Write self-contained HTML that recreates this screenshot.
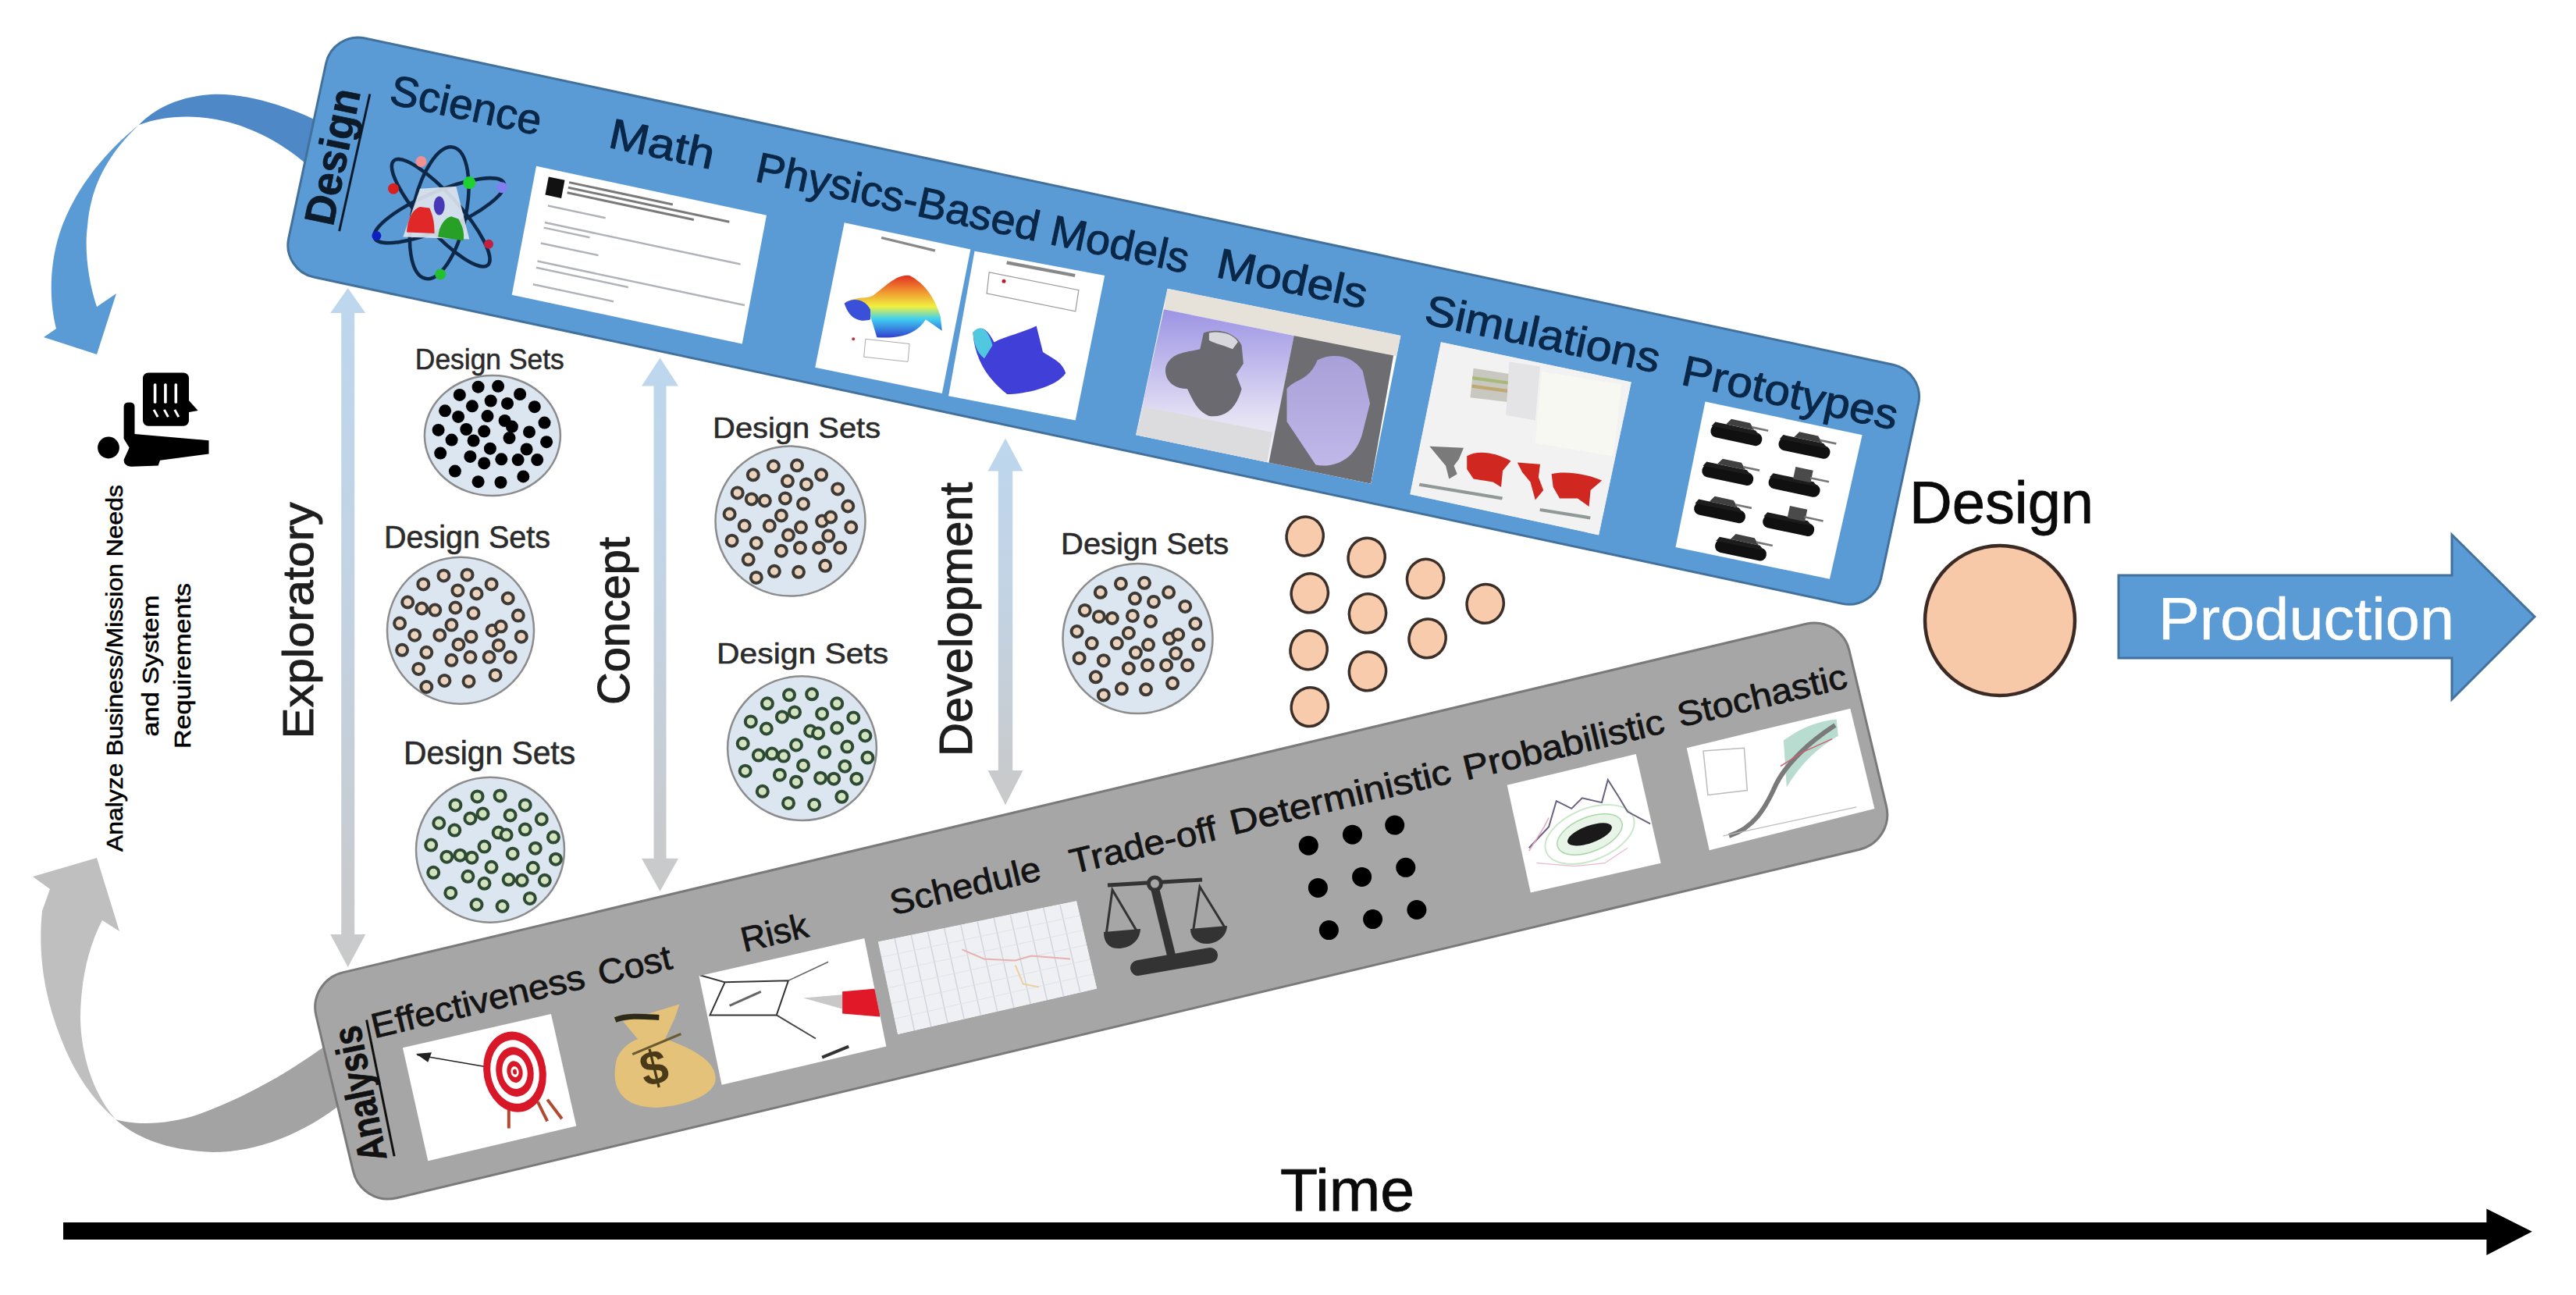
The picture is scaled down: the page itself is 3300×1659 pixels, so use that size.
<!DOCTYPE html>
<html><head><meta charset="utf-8"><title>Design and Analysis</title>
<style>
html,body{margin:0;padding:0;background:#ffffff;width:3300px;height:1659px;overflow:hidden;}
svg{display:block;}
text{font-family:"Liberation Sans", sans-serif;}
</style></head><body>
<svg width="3300" height="1659" viewBox="0 0 3300 1659">
<rect x="0" y="0" width="3300" height="1659" fill="#ffffff"/>
<path d="M420,162 C385,142 320,118 270,121 C225,124 195,142 178,160 C205,150 240,146 277,153 C320,161 360,182 392,210 L420,226 Z" fill="#4f88c6"/>
<path d="M178,160 C140,190 95,240 76,300 C62,345 64,390 72,421 L56,432 L124,454 L149,376 L124,393 C113,360 108,320 112,290 C115,250 130,205 178,160 Z" fill="#5b9bd5"/>
<path d="M430,1330 C390,1360 330,1400 256,1427 C215,1441 175,1442 148,1434 C175,1458 215,1474 273,1476 C330,1476 390,1452 440,1412 Z" fill="#a3a3a3"/>
<path d="M148,1434 C120,1410 95,1375 78,1330 C58,1280 48,1225 54,1167 L64,1139 L42,1123 L124,1099 L153,1193 L131,1179 C112,1215 103,1260 103,1306 C104,1345 115,1395 148,1434 Z" fill="#bfbfbf"/>
<rect x="426.4" y="40.2" width="2086" height="313" rx="42" ry="42" transform="rotate(12.06 426.4 40.2)" fill="#5b9bd5" stroke="#41719c" stroke-width="3"/>
<rect x="394.3" y="1256.5" width="2019" height="297" rx="46" ry="46" transform="rotate(-13.4 394.3 1256.5)" fill="#a6a6a6" stroke="#7a7a7a" stroke-width="3"/>
<defs>
<linearGradient id="ga1" x1="0" y1="0" x2="0" y2="1"><stop offset="0" stop-color="#bdd7ee"/><stop offset="0.45" stop-color="#c3d3e3"/><stop offset="1" stop-color="#c9c9c9"/></linearGradient>
</defs>
<polygon points="445.7,369.0 468.2,401.0 454.2,401.0 454.2,1197.0 468.2,1197.0 445.7,1239.0 423.2,1197.0 437.2,1197.0 437.2,401.0 423.2,401.0" fill="url(#ga1)" />
<polygon points="845.5,458.5 869.0,494.5 853.5,494.5 853.5,1099.8 869.0,1099.8 845.5,1141.8 822.0,1099.8 837.5,1099.8 837.5,494.5 822.0,494.5" fill="url(#ga1)" />
<polygon points="1288.0,561.6 1310.5,603.6 1297.2,603.6 1297.2,987.0 1310.5,987.0 1288.0,1031.0 1265.5,987.0 1278.8,987.0 1278.8,603.6 1265.5,603.6" fill="url(#ga1)" />
<g transform="matrix(2.9500 0.6290 -0.3130 1.6490 687.0 212.8)"><rect x="0" y="0" width="100" height="100" fill="#ffffff" /><rect x="6" y="6" width="7" height="14" fill="#111"/><rect x="15" y="6" width="45" height="1.8" fill="#7a7a7a"/><rect x="15" y="10" width="70" height="1.8" fill="#7a7a7a"/><rect x="15" y="14" width="55" height="1.8" fill="#7a7a7a"/><rect x="8" y="27" width="25" height="1.5" fill="#b0b4ba"/><rect x="8" y="40" width="85" height="1.5" fill="#b0b4ba"/><rect x="8" y="44" width="20" height="1.5" fill="#b0b4ba"/><rect x="8" y="56" width="25" height="1.5" fill="#b0b4ba"/><rect x="8" y="70" width="90" height="1.5" fill="#b0b4ba"/><rect x="8" y="75" width="40" height="1.5" fill="#b0b4ba"/><rect x="8" y="88" width="35" height="1.5" fill="#b0b4ba"/></g>
<clipPath id="cp1"><polygon points="1081.7,285.2 1243.3,319.6 1206.8,504.1 1044.2,470.7"/></clipPath><polygon points="1081.7,285.2 1243.3,319.6 1206.8,504.1 1044.2,470.7" fill="#ffffff"/><g clip-path="url(#cp1)"><defs><linearGradient id="jet1" x1="0" y1="1" x2="0" y2="0"><stop offset="0" stop-color="#3040d0"/><stop offset="0.3" stop-color="#40d0f0"/><stop offset="0.5" stop-color="#f0f040"/><stop offset="0.75" stop-color="#f09030"/><stop offset="1" stop-color="#e03020"/></linearGradient></defs><polygon points="1129.6,302.9 1198.4,319.6 1197.4,322.7 1128.6,306.1" fill="#888"/><path d="M1081.7,388.4 C1098.4,378.0 1110.9,384.2 1119.2,378.0 C1133.8,367.6 1148.4,350.9 1165.1,353.0 C1185.9,363.4 1198.4,384.2 1204.7,405.1 L1206.8,423.8 L1185.9,409.2 C1175.5,425.9 1156.7,434.3 1123.4,432.2 L1115.0,405.1 C1102.5,413.4 1087.9,409.2 1081.7,388.4 Z" fill="url(#jet1)"/><path d="M1081.7,388.4 C1094.2,380.1 1108.8,384.2 1115.0,396.7 L1115.0,409.2 C1102.5,413.4 1087.9,409.2 1081.7,388.4 Z" fill="#3a50d8"/><polygon points="1108.8,434.3 1165.1,440.5 1163.0,463.4 1106.7,457.2" fill="none" stroke="#aaa" stroke-width="1"/><circle cx="1093.2" cy="434.3" r="2" fill="#c03040"/></g>
<clipPath id="cp2"><polygon points="1248.5,321.7 1415.2,353.0 1377.7,538.5 1215.1,507.2"/></clipPath><polygon points="1248.5,321.7 1415.2,353.0 1377.7,538.5 1215.1,507.2" fill="#ffffff"/><g clip-path="url(#cp2)"><polygon points="1290.2,334.2 1377.7,350.9 1376.7,355.0 1289.1,338.4" fill="#888"/><polygon points="1267.2,348.8 1381.9,371.7 1377.7,398.8 1264.1,375.9" fill="none" stroke="#999" stroke-width="1.2"/><circle cx="1286.0" cy="360.3" r="2.5" fill="#b02030"/><path d="M1246.4,425.9 C1258.9,413.4 1267.2,425.9 1273.5,438.4 C1290.2,430.1 1311.0,425.9 1327.7,417.6 L1336.0,450.9 C1348.5,459.3 1361.0,463.4 1365.2,478.0 C1352.7,496.8 1311.0,505.1 1290.2,505.1 C1269.3,488.5 1248.5,463.4 1246.4,425.9 Z" fill="#4040d8"/><path d="M1246.4,425.9 C1256.8,413.4 1267.2,423.8 1271.4,442.6 L1261.0,459.3 C1250.5,450.9 1247.4,438.4 1246.4,425.9 Z" fill="#50c8e0"/></g>
<clipPath id="cp3"><polygon points="1495.6,369.7 1794.4,429.9 1756.2,619.8 1455.1,557.3"/></clipPath><polygon points="1495.6,369.7 1794.4,429.9 1756.2,619.8 1455.1,557.3" fill="#ffffff"/><g clip-path="url(#cp3)"><defs><linearGradient id="lav" x1="0" y1="0" x2="0" y2="1"><stop offset="0" stop-color="#9c94e4"/><stop offset="0.7" stop-color="#e4e0f4"/><stop offset="1" stop-color="#f4f4f8"/></linearGradient><linearGradient id="lav2" x1="0" y1="0" x2="0" y2="1"><stop offset="0" stop-color="#a8a0d8"/><stop offset="1" stop-color="#c0b8e8"/></linearGradient></defs><polygon points="1495.6,369.7 1794.4,429.9 1789.7,456.5 1491.0,396.3" fill="#e6e2da"/><polygon points="1491.0,396.3 1657.7,429.9 1625.3,593.2 1455.1,557.3" fill="url(#lav)"/><polygon points="1465.5,521.4 1629.9,553.8 1623.0,593.2 1455.1,557.3" fill="#dcdcde"/><path d="M1493.3,470.4 C1500.2,451.9 1516.4,451.9 1537.3,447.3 L1541.9,426.4 C1560.4,419.5 1583.6,426.4 1590.6,442.6 L1592.9,465.8 L1583.6,479.7 L1590.6,498.2 C1583.6,523.7 1569.7,535.3 1548.9,533.0 C1532.6,526.0 1528.0,512.1 1521.1,498.2 C1504.9,498.2 1491.0,489.0 1493.3,470.4 Z" fill="#6a6a70"/><path d="M1548.9,426.4 C1560.4,424.1 1579.0,426.4 1585.9,438.0 L1579.0,447.3 C1569.7,442.6 1555.8,440.3 1548.9,435.7 Z" fill="#d8d8dc"/><polygon points="1657.7,429.9 1785.1,455.4 1756.2,619.8 1625.3,593.2" fill="#6e6e72"/><path d="M1648.5,498.2 C1660.0,484.3 1676.2,489.0 1687.8,461.2 C1706.4,451.9 1731.8,454.2 1745.7,475.1 L1755.0,516.8 L1745.7,553.8 C1736.5,590.9 1706.4,600.1 1685.5,595.5 L1648.5,539.9 Z" fill="url(#lav2)"/></g>
<clipPath id="cp4"><polygon points="1845.9,438.3 2089.8,489.4 2048.1,685.4 1806.3,633.3"/></clipPath><polygon points="1845.9,438.3 2089.8,489.4 2048.1,685.4 1806.3,633.3" fill="#ffffff"/><g clip-path="url(#cp4)"><polygon points="1845.9,438.3 2089.8,489.4 2048.1,685.4 1806.3,633.3" fill="#f2f2f2"/><polygon points="1887.6,471.7 1939.7,480.0 1935.5,515.5 1883.4,509.2" fill="#c8c8c0"/><polygon points="1886.5,482.1 1939.3,489.4 1938.6,493.6 1885.9,486.3" fill="#a8b878"/><polygon points="1885.9,492.5 1938.4,499.8 1937.8,504.0 1885.3,496.7" fill="#c0a870"/><polygon points="1933.4,463.4 1973.0,469.6 1966.8,538.4 1929.2,532.1" fill="#e4e4e6"/><polygon points="1975.1,475.9 2077.3,492.5 2066.8,584.3 1966.8,567.6" fill="#f8f8f2"/><path d="M1831.3,571.8 L1875.0,573.8 L1868.8,588.4 L1862.5,596.8 L1866.7,607.2 L1856.3,613.4 L1852.1,596.8 L1841.7,584.3 Z" fill="#7a7a7a"/><path d="M1879.2,584.3 C1893.8,575.9 1916.7,580.1 1935.5,590.5 L1925.1,603.0 L1923.0,623.9 L1912.6,617.6 L1887.6,613.4 L1879.2,600.9 Z" fill="#d02820"/><path d="M1943.8,592.6 L1973.0,594.7 L1970.9,611.4 L1977.2,628.0 L1966.8,640.5 L1960.5,617.6 L1950.1,605.1 Z" fill="#d02820"/><path d="M1987.6,607.2 C2004.3,603.0 2033.5,607.2 2052.2,615.5 L2037.6,628.0 L2035.6,648.9 L2021.0,638.5 L1998.0,638.5 L1989.7,623.9 Z" fill="#d02820"/><polygon points="1818.8,618.7 1925.1,636.4 1924.0,640.5 1817.7,622.8" fill="#909898"/><polygon points="1973.0,651.0 2037.6,661.4 2037.0,665.6 1972.4,655.1" fill="#909898"/></g>
<clipPath id="cp5"><polygon points="2184.5,514.6 2385.6,557.3 2343.9,741.7 2146.5,700.9"/></clipPath><polygon points="2184.5,514.6 2385.6,557.3 2343.9,741.7 2146.5,700.9" fill="#ffffff"/><g clip-path="url(#cp5)"><g transform="translate(2225.2,553.6) rotate(12) scale(0.88)"><rect x="-38" y="-5" width="76" height="19" rx="9" fill="#101010"/><polygon points="-34,-8 26,-8 33,-2 -38,-1" fill="#1c1c1c"/><polygon points="-12,-17 16,-17 24,-8 -18,-8" fill="#404040"/><rect x="20" y="-13" width="24" height="3" fill="#777"/></g><g transform="translate(2312.3,570.2) rotate(12) scale(0.88)"><rect x="-38" y="-5" width="76" height="19" rx="9" fill="#101010"/><polygon points="-34,-8 26,-8 33,-2 -38,-1" fill="#1c1c1c"/><polygon points="-12,-17 16,-17 24,-8 -18,-8" fill="#404040"/><rect x="20" y="-13" width="24" height="3" fill="#777"/></g><g transform="translate(2214.1,604.5) rotate(12) scale(0.88)"><rect x="-38" y="-5" width="76" height="19" rx="9" fill="#101010"/><polygon points="-34,-8 26,-8 33,-2 -38,-1" fill="#1c1c1c"/><polygon points="-12,-17 16,-17 24,-8 -18,-8" fill="#404040"/><rect x="20" y="-13" width="24" height="3" fill="#777"/></g><g transform="translate(2299.4,619.3) rotate(12) scale(0.88)"><rect x="-38" y="-5" width="76" height="19" rx="9" fill="#101010"/><polygon points="-34,-8 26,-8 33,-2 -38,-1" fill="#1c1c1c"/><rect x="-4" y="-24" width="26" height="18" fill="#4a4a4a"/><rect x="20" y="-14" width="28" height="3" fill="#777"/></g><g transform="translate(2203.9,652.7) rotate(12) scale(0.88)"><rect x="-38" y="-5" width="76" height="19" rx="9" fill="#101010"/><polygon points="-34,-8 26,-8 33,-2 -38,-1" fill="#1c1c1c"/><polygon points="-12,-17 16,-17 24,-8 -18,-8" fill="#404040"/><rect x="20" y="-13" width="24" height="3" fill="#777"/></g><g transform="translate(2292.0,669.4) rotate(12) scale(0.88)"><rect x="-38" y="-5" width="76" height="19" rx="9" fill="#101010"/><polygon points="-34,-8 26,-8 33,-2 -38,-1" fill="#1c1c1c"/><rect x="-4" y="-24" width="26" height="18" fill="#4a4a4a"/><rect x="20" y="-14" width="28" height="3" fill="#777"/></g><g transform="translate(2230.8,700.9) rotate(12) scale(0.88)"><rect x="-38" y="-5" width="76" height="19" rx="9" fill="#101010"/><polygon points="-34,-8 26,-8 33,-2 -38,-1" fill="#1c1c1c"/><polygon points="-12,-17 16,-17 24,-8 -18,-8" fill="#404040"/><rect x="20" y="-13" width="24" height="3" fill="#777"/></g></g>
<clipPath id="cp6"><polygon points="515.9,1342.2 705.9,1298.9 738.3,1442.5 548.3,1487.3"/></clipPath><polygon points="515.9,1342.2 705.9,1298.9 738.3,1442.5 548.3,1487.3" fill="#ffffff"/><g clip-path="url(#cp6)"><line x1="534.4" y1="1351.4" x2="659.5" y2="1373.1" stroke="#222" stroke-width="1.5"/><polygon points="532.9,1349.9 553.0,1348.3 548.3,1360.7" fill="#222"/><line x1="651.8" y1="1414.7" x2="651.8" y2="1445.6" stroke="#b04a30" stroke-width="4"/><line x1="688.9" y1="1411.7" x2="701.2" y2="1436.4" stroke="#b04a30" stroke-width="4"/><line x1="701.2" y1="1408.6" x2="719.8" y2="1433.3" stroke="#b04a30" stroke-width="4"/><ellipse cx="659.5" cy="1373.1" rx="40" ry="52" transform="rotate(-10 659.5 1373.1)" fill="#d81828"/><ellipse cx="659.5" cy="1373.1" rx="31" ry="41" transform="rotate(-10 659.5 1373.1)" fill="#fff"/><ellipse cx="659.5" cy="1373.1" rx="24" ry="32" transform="rotate(-10 659.5 1373.1)" fill="#d81828"/><ellipse cx="659.5" cy="1373.1" rx="16" ry="22" transform="rotate(-10 659.5 1373.1)" fill="#fff"/><ellipse cx="659.5" cy="1373.1" rx="10" ry="14" transform="rotate(-10 659.5 1373.1)" fill="#d81828"/><ellipse cx="659.5" cy="1373.1" rx="5" ry="7" transform="rotate(-10 659.5 1373.1)" fill="#fff"/><ellipse cx="659.5" cy="1373.1" rx="2.5" ry="3.5" transform="rotate(-10 659.5 1373.1)" fill="#d81828"/></g>
<path d="M790.1,1356.6 C800.1,1332.5 830.3,1320.5 856.3,1332.5 C890.5,1344.6 916.6,1360.7 916.6,1380.7 C918.6,1400.8 880.4,1416.9 840.3,1418.9 C800.1,1418.9 780.1,1396.8 790.1,1356.6 Z" fill="#e4c27a"/><polygon points="798.1,1308.5 870.4,1286.4 864.4,1304.4 850.3,1334.6 818.2,1332.5" fill="#e4c27a"/><path d="M788.1,1306.5 C804.2,1300.4 824.2,1302.4 844.3,1303.4" stroke="#2e2a18" stroke-width="7" fill="none"/><line x1="810.2" y1="1350.6" x2="872.4" y2="1324.5" stroke="#6a5a30" stroke-width="3"/><text transform="translate(826.2,1392.8) rotate(-14)" font-size="62" font-weight="bold" fill="#4a3a18">$</text>
<clipPath id="cp7"><polygon points="895.5,1250.3 1107.3,1202.1 1135.4,1340.6 924.6,1389.8"/></clipPath><polygon points="895.5,1250.3 1107.3,1202.1 1135.4,1340.6 924.6,1389.8" fill="#ffffff"/><g clip-path="url(#cp7)"><polyline points="896.5,1249.2 928.6,1258.3 909.5,1300.4 994.8,1300.4 1009.9,1256.3 928.6,1258.3" fill="none" stroke="#333" stroke-width="2"/><polyline points="1009.9,1256.3 1061.1,1232.2" fill="none" stroke="#666" stroke-width="1.5"/><polyline points="994.8,1300.4 1045.0,1330.5" fill="none" stroke="#444" stroke-width="2"/><polygon points="1029.0,1278.4 1079.1,1274.3 1079.1,1292.4" fill="#c8c8c8"/><polygon points="1079.1,1270.3 1125.3,1266.3 1127.3,1302.4 1079.1,1298.4" fill="#e01828"/><polyline points="934.6,1288.4 974.8,1270.3" fill="none" stroke="#666" stroke-width="3"/><polyline points="1053.1,1354.6 1087.2,1340.6" fill="none" stroke="#333" stroke-width="4"/></g>
<clipPath id="cp8"><polygon points="1125.0,1206.4 1379.0,1154.2 1405.1,1266.6 1150.1,1324.9"/></clipPath><polygon points="1125.0,1206.4 1379.0,1154.2 1405.1,1266.6 1150.1,1324.9" fill="#ffffff"/><g clip-path="url(#cp8)"><polygon points="1125.0,1206.4 1379.0,1154.2 1405.1,1266.6 1150.1,1324.9" fill="#eef0f4"/><line x1="1146.2" y1="1202.1" x2="1171.4" y2="1320.0" stroke="#d0d4dc" stroke-width="1.5"/><line x1="1167.3" y1="1197.7" x2="1192.6" y2="1315.2" stroke="#d0d4dc" stroke-width="1.5"/><line x1="1188.5" y1="1193.4" x2="1213.9" y2="1310.3" stroke="#d0d4dc" stroke-width="1.5"/><line x1="1209.7" y1="1189.0" x2="1235.1" y2="1305.4" stroke="#d0d4dc" stroke-width="1.5"/><line x1="1230.8" y1="1184.7" x2="1256.4" y2="1300.6" stroke="#d0d4dc" stroke-width="1.5"/><line x1="1252.0" y1="1180.3" x2="1277.6" y2="1295.7" stroke="#d0d4dc" stroke-width="1.5"/><line x1="1273.2" y1="1176.0" x2="1298.8" y2="1290.9" stroke="#d0d4dc" stroke-width="1.5"/><line x1="1294.3" y1="1171.6" x2="1320.1" y2="1286.0" stroke="#d0d4dc" stroke-width="1.5"/><line x1="1315.5" y1="1167.3" x2="1341.3" y2="1281.2" stroke="#d0d4dc" stroke-width="1.5"/><line x1="1336.7" y1="1162.9" x2="1362.6" y2="1276.3" stroke="#d0d4dc" stroke-width="1.5"/><line x1="1357.8" y1="1158.6" x2="1383.8" y2="1271.5" stroke="#d0d4dc" stroke-width="1.5"/><line x1="1129.2" y1="1226.1" x2="1383.3" y2="1172.9" stroke="#dfe2e8" stroke-width="1"/><line x1="1133.4" y1="1245.9" x2="1387.7" y2="1191.7" stroke="#dfe2e8" stroke-width="1"/><line x1="1137.6" y1="1265.6" x2="1392.0" y2="1210.4" stroke="#dfe2e8" stroke-width="1"/><line x1="1141.7" y1="1285.4" x2="1396.4" y2="1229.2" stroke="#dfe2e8" stroke-width="1"/><line x1="1145.9" y1="1305.1" x2="1400.7" y2="1247.9" stroke="#dfe2e8" stroke-width="1"/><polyline points="1232.4,1216.4 1260.5,1228.5 1300.7,1230.5 1320.8,1224.5 1371.0,1228.5" fill="none" stroke="#e8b0b0" stroke-width="2"/><polyline points="1300.7,1236.5 1310.7,1260.6 1330.8,1264.6" fill="none" stroke="#f0d0a0" stroke-width="2"/></g>
<g stroke="#333" fill="none"><line x1="1419" y1="1134" x2="1470" y2="1131" stroke-width="5"/><line x1="1489" y1="1130" x2="1540" y2="1127" stroke-width="5"/><circle cx="1479.4" cy="1132" r="8" stroke-width="5"/><line x1="1480" y1="1140" x2="1502" y2="1230" stroke-width="11"/><line x1="1458" y1="1240" x2="1550" y2="1224" stroke-width="20" stroke-linecap="round"/><polyline points="1417,1198 1425,1140 1457,1194" stroke-width="3"/><polyline points="1528,1196 1537,1136 1569,1188" stroke-width="3"/></g><path d="M1414,1194 L1461,1190 C1460,1210 1440,1218 1425,1214 C1416,1210 1414,1202 1414,1194 Z" fill="#333"/><path d="M1525,1190 L1572,1186 C1571,1204 1552,1212 1538,1208 C1528,1204 1525,1197 1525,1190 Z" fill="#333"/>
<circle cx="1676.3" cy="1083.2" r="12.5" fill="#000"/>
<circle cx="1732.5" cy="1069.2" r="12.5" fill="#000"/>
<circle cx="1786.7" cy="1057.1" r="12.5" fill="#000"/>
<circle cx="1688.4" cy="1137.4" r="12.5" fill="#000"/>
<circle cx="1744.6" cy="1123.4" r="12.5" fill="#000"/>
<circle cx="1800.8" cy="1111.3" r="12.5" fill="#000"/>
<circle cx="1702.4" cy="1191.6" r="12.5" fill="#000"/>
<circle cx="1758.6" cy="1177.6" r="12.5" fill="#000"/>
<circle cx="1814.9" cy="1165.5" r="12.5" fill="#000"/>
<clipPath id="cp9"><polygon points="1930.7,1005.8 2095.7,966.0 2127.7,1105.7 1960.8,1143.6"/></clipPath><polygon points="1930.7,1005.8 2095.7,966.0 2127.7,1105.7 1960.8,1143.6" fill="#ffffff"/><g clip-path="url(#cp9)"><ellipse cx="2036.5" cy="1068.9" rx="60" ry="33" transform="rotate(-22 2036.5 1068.9)" fill="none" stroke="#c8e8c8" stroke-width="2"/><ellipse cx="2036.5" cy="1068.9" rx="44" ry="22" transform="rotate(-22 2036.5 1068.9)" fill="#e8f4e8" stroke="#a8d8a8" stroke-width="1.5"/><ellipse cx="2036.5" cy="1068.9" rx="30" ry="11" transform="rotate(-20 2036.5 1068.9)" fill="#1a1a1a"/><polyline points="1958.8,1086.3 1984.1,1059.2 1993.8,1026.2 2013.2,1035.9 2026.8,1022.3 2052.0,1028.1 2059.8,999.0 2073.3,1020.3 2085.0,1039.8 2114.1,1055.3" fill="none" stroke="#6a6080" stroke-width="2"/><polyline points="1958.8,1090.2 1978.2,1059.2 1984.1,1047.5" fill="none" stroke="#e0a8c0" stroke-width="1.5"/><polyline points="1968.5,1105.7 2017.0,1109.6 2055.9,1105.7 2085.0,1086.3" fill="none" stroke="#e8b8d0" stroke-width="1.2"/></g>
<clipPath id="cp10"><polygon points="2160.7,958.2 2370.3,907.8 2401.4,1035.9 2189.8,1089.2"/></clipPath><polygon points="2160.7,958.2 2370.3,907.8 2401.4,1035.9 2189.8,1089.2" fill="#ffffff"/><g clip-path="url(#cp10)"><polygon points="2182.0,962.1 2234.4,958.2 2238.3,1012.6 2187.9,1018.4" fill="none" stroke="#bbb" stroke-width="1.5"/><path d="M2284.9,948.5 C2308.2,931.1 2331.5,923.3 2352.8,921.4 L2354.8,942.7 C2327.6,958.2 2304.3,981.5 2288.8,1008.7 Z" fill="#b8dcd0"/><path d="M2215.0,1070.8 C2246.1,1061.1 2261.6,1035.9 2275.2,1004.8 C2288.8,977.6 2317.9,950.5 2350.9,929.1" fill="none" stroke="#7a7a7a" stroke-width="6"/><polyline points="2281.0,981.5 2308.2,964.1 2347.0,946.6" fill="none" stroke="#d06070" stroke-width="1.5"/><polyline points="2207.3,1070.8 2378.1,1033.9" fill="none" stroke="#bbb" stroke-width="1.2"/></g>
<g fill="none" stroke="#0d2848" stroke-width="4.5"><ellipse cx="562.7" cy="272.7" rx="86" ry="34" transform="rotate(-78 562.7 272.7)"/><ellipse cx="564.7" cy="272.7" rx="90" ry="24" transform="rotate(48 564.7 272.7)"/><ellipse cx="562.7" cy="269.7" rx="90" ry="24" transform="rotate(-23 562.7 269.7)"/></g>
<path d="M538.0,241.8 L584.3,238.7 L601.3,306.6 L516.3,303.6 Z" fill="#dfe6ee" opacity="0.9"/>
<path d="M521.0,297.4 C522.5,275.8 531.8,266.5 538.0,264.9 L550.3,266.5 C556.5,280.4 556.5,291.2 556.5,298.9 Z" fill="#e02828"/>
<path d="M561.1,303.6 C562.7,288.1 570.4,278.8 578.1,277.3 L587.4,280.4 C593.6,291.2 595.1,300.5 593.6,308.2 Z" fill="#28a028"/>
<ellipse cx="562.7" cy="263.4" rx="7" ry="12" fill="#4838b8"/>
<circle cx="539.5" cy="207.0" r="7" fill="#f09090"/>
<circle cx="504.0" cy="241.8" r="7" fill="#d82020"/>
<circle cx="601.3" cy="234.1" r="8" fill="#20d030"/>
<circle cx="643.0" cy="240.2" r="7" fill="#8080f0"/>
<circle cx="482.4" cy="302.0" r="6" fill="#1020c0"/>
<circle cx="626.0" cy="312.8" r="6" fill="#c02040"/>
<circle cx="564.2" cy="351.4" r="7" fill="#20c030"/>
<ellipse cx="630.9" cy="558.1" rx="87.0" ry="77.0" fill="#dce6f1" stroke="#8c8c8c" stroke-width="2.5"/>
<circle cx="612.6" cy="495.7" r="8" fill="#000"/>
<circle cx="638.1" cy="494.8" r="8" fill="#000"/>
<circle cx="588.8" cy="505.9" r="8" fill="#000"/>
<circle cx="628.7" cy="513.5" r="8" fill="#000"/>
<circle cx="666.1" cy="505.0" r="8" fill="#000"/>
<circle cx="604.9" cy="520.3" r="8" fill="#000"/>
<circle cx="650.0" cy="516.9" r="8" fill="#000"/>
<circle cx="684.8" cy="521.2" r="8" fill="#000"/>
<circle cx="570.1" cy="526.3" r="8" fill="#000"/>
<circle cx="587.1" cy="533.9" r="8" fill="#000"/>
<circle cx="624.5" cy="533.1" r="8" fill="#000"/>
<circle cx="646.6" cy="539.0" r="8" fill="#000"/>
<circle cx="655.9" cy="546.6" r="8" fill="#000"/>
<circle cx="697.5" cy="541.6" r="8" fill="#000"/>
<circle cx="561.6" cy="550.9" r="8" fill="#000"/>
<circle cx="597.3" cy="550.0" r="8" fill="#000"/>
<circle cx="620.2" cy="552.6" r="8" fill="#000"/>
<circle cx="678.0" cy="553.4" r="8" fill="#000"/>
<circle cx="652.5" cy="561.1" r="8" fill="#000"/>
<circle cx="578.6" cy="563.6" r="8" fill="#000"/>
<circle cx="606.6" cy="564.5" r="8" fill="#000"/>
<circle cx="700.1" cy="566.2" r="8" fill="#000"/>
<circle cx="627.9" cy="574.7" r="8" fill="#000"/>
<circle cx="674.6" cy="575.5" r="8" fill="#000"/>
<circle cx="564.2" cy="580.6" r="8" fill="#000"/>
<circle cx="602.4" cy="584.9" r="8" fill="#000"/>
<circle cx="642.3" cy="588.3" r="8" fill="#000"/>
<circle cx="620.2" cy="593.4" r="8" fill="#000"/>
<circle cx="663.6" cy="589.1" r="8" fill="#000"/>
<circle cx="688.2" cy="589.1" r="8" fill="#000"/>
<circle cx="582.9" cy="603.6" r="8" fill="#000"/>
<circle cx="612.6" cy="617.2" r="8" fill="#000"/>
<circle cx="641.5" cy="618.0" r="8" fill="#000"/>
<circle cx="670.3" cy="610.4" r="8" fill="#000"/>
<ellipse cx="590.0" cy="807.7" rx="94.0" ry="94.0" fill="#dce6f1" stroke="#8c8c8c" stroke-width="2.5"/>
<circle cx="568.4" cy="737.4" r="7" fill="#ecd3bd" stroke="#3d3a36" stroke-width="4"/>
<circle cx="598.5" cy="736.4" r="7" fill="#ecd3bd" stroke="#3d3a36" stroke-width="4"/>
<circle cx="542.3" cy="748.4" r="7" fill="#ecd3bd" stroke="#3d3a36" stroke-width="4"/>
<circle cx="586.4" cy="756.4" r="7" fill="#ecd3bd" stroke="#3d3a36" stroke-width="4"/>
<circle cx="610.5" cy="760.5" r="7" fill="#ecd3bd" stroke="#3d3a36" stroke-width="4"/>
<circle cx="629.6" cy="748.4" r="7" fill="#ecd3bd" stroke="#3d3a36" stroke-width="4"/>
<circle cx="650.7" cy="766.5" r="7" fill="#ecd3bd" stroke="#3d3a36" stroke-width="4"/>
<circle cx="522.2" cy="771.5" r="7" fill="#ecd3bd" stroke="#3d3a36" stroke-width="4"/>
<circle cx="540.3" cy="779.5" r="7" fill="#ecd3bd" stroke="#3d3a36" stroke-width="4"/>
<circle cx="557.3" cy="781.6" r="7" fill="#ecd3bd" stroke="#3d3a36" stroke-width="4"/>
<circle cx="583.4" cy="778.5" r="7" fill="#ecd3bd" stroke="#3d3a36" stroke-width="4"/>
<circle cx="606.5" cy="785.6" r="7" fill="#ecd3bd" stroke="#3d3a36" stroke-width="4"/>
<circle cx="663.8" cy="788.6" r="7" fill="#ecd3bd" stroke="#3d3a36" stroke-width="4"/>
<circle cx="512.1" cy="798.6" r="7" fill="#ecd3bd" stroke="#3d3a36" stroke-width="4"/>
<circle cx="578.4" cy="800.6" r="7" fill="#ecd3bd" stroke="#3d3a36" stroke-width="4"/>
<circle cx="630.6" cy="807.7" r="7" fill="#ecd3bd" stroke="#3d3a36" stroke-width="4"/>
<circle cx="641.7" cy="802.6" r="7" fill="#ecd3bd" stroke="#3d3a36" stroke-width="4"/>
<circle cx="531.2" cy="813.7" r="7" fill="#ecd3bd" stroke="#3d3a36" stroke-width="4"/>
<circle cx="563.3" cy="813.7" r="7" fill="#ecd3bd" stroke="#3d3a36" stroke-width="4"/>
<circle cx="603.5" cy="815.7" r="7" fill="#ecd3bd" stroke="#3d3a36" stroke-width="4"/>
<circle cx="667.8" cy="815.7" r="7" fill="#ecd3bd" stroke="#3d3a36" stroke-width="4"/>
<circle cx="587.4" cy="825.7" r="7" fill="#ecd3bd" stroke="#3d3a36" stroke-width="4"/>
<circle cx="638.7" cy="826.7" r="7" fill="#ecd3bd" stroke="#3d3a36" stroke-width="4"/>
<circle cx="515.1" cy="832.8" r="7" fill="#ecd3bd" stroke="#3d3a36" stroke-width="4"/>
<circle cx="546.3" cy="835.8" r="7" fill="#ecd3bd" stroke="#3d3a36" stroke-width="4"/>
<circle cx="578.4" cy="845.8" r="7" fill="#ecd3bd" stroke="#3d3a36" stroke-width="4"/>
<circle cx="602.5" cy="841.8" r="7" fill="#ecd3bd" stroke="#3d3a36" stroke-width="4"/>
<circle cx="626.6" cy="841.8" r="7" fill="#ecd3bd" stroke="#3d3a36" stroke-width="4"/>
<circle cx="653.7" cy="841.8" r="7" fill="#ecd3bd" stroke="#3d3a36" stroke-width="4"/>
<circle cx="536.2" cy="856.9" r="7" fill="#ecd3bd" stroke="#3d3a36" stroke-width="4"/>
<circle cx="569.4" cy="871.9" r="7" fill="#ecd3bd" stroke="#3d3a36" stroke-width="4"/>
<circle cx="600.5" cy="872.9" r="7" fill="#ecd3bd" stroke="#3d3a36" stroke-width="4"/>
<circle cx="634.6" cy="864.9" r="7" fill="#ecd3bd" stroke="#3d3a36" stroke-width="4"/>
<circle cx="546.3" cy="880.0" r="7" fill="#ecd3bd" stroke="#3d3a36" stroke-width="4"/>
<ellipse cx="628.0" cy="1088.7" rx="95.0" ry="93.0" fill="#dce6f1" stroke="#8c8c8c" stroke-width="2.5"/>
<circle cx="611.5" cy="1020.4" r="7" fill="#d2e3c0" stroke="#2e4a33" stroke-width="4"/>
<circle cx="640.6" cy="1019.4" r="7" fill="#d2e3c0" stroke="#2e4a33" stroke-width="4"/>
<circle cx="583.4" cy="1031.4" r="7" fill="#d2e3c0" stroke="#2e4a33" stroke-width="4"/>
<circle cx="672.7" cy="1031.4" r="7" fill="#d2e3c0" stroke="#2e4a33" stroke-width="4"/>
<circle cx="618.5" cy="1042.5" r="7" fill="#d2e3c0" stroke="#2e4a33" stroke-width="4"/>
<circle cx="602.4" cy="1048.5" r="7" fill="#d2e3c0" stroke="#2e4a33" stroke-width="4"/>
<circle cx="653.6" cy="1044.5" r="7" fill="#d2e3c0" stroke="#2e4a33" stroke-width="4"/>
<circle cx="693.8" cy="1049.5" r="7" fill="#d2e3c0" stroke="#2e4a33" stroke-width="4"/>
<circle cx="562.3" cy="1054.5" r="7" fill="#d2e3c0" stroke="#2e4a33" stroke-width="4"/>
<circle cx="582.3" cy="1063.6" r="7" fill="#d2e3c0" stroke="#2e4a33" stroke-width="4"/>
<circle cx="638.6" cy="1066.6" r="7" fill="#d2e3c0" stroke="#2e4a33" stroke-width="4"/>
<circle cx="648.6" cy="1069.6" r="7" fill="#d2e3c0" stroke="#2e4a33" stroke-width="4"/>
<circle cx="672.7" cy="1062.6" r="7" fill="#d2e3c0" stroke="#2e4a33" stroke-width="4"/>
<circle cx="708.9" cy="1072.6" r="7" fill="#d2e3c0" stroke="#2e4a33" stroke-width="4"/>
<circle cx="552.2" cy="1082.6" r="7" fill="#d2e3c0" stroke="#2e4a33" stroke-width="4"/>
<circle cx="620.5" cy="1084.6" r="7" fill="#d2e3c0" stroke="#2e4a33" stroke-width="4"/>
<circle cx="572.3" cy="1097.7" r="7" fill="#d2e3c0" stroke="#2e4a33" stroke-width="4"/>
<circle cx="589.4" cy="1095.7" r="7" fill="#d2e3c0" stroke="#2e4a33" stroke-width="4"/>
<circle cx="604.4" cy="1098.7" r="7" fill="#d2e3c0" stroke="#2e4a33" stroke-width="4"/>
<circle cx="685.8" cy="1086.7" r="7" fill="#d2e3c0" stroke="#2e4a33" stroke-width="4"/>
<circle cx="656.7" cy="1093.7" r="7" fill="#d2e3c0" stroke="#2e4a33" stroke-width="4"/>
<circle cx="711.9" cy="1100.7" r="7" fill="#d2e3c0" stroke="#2e4a33" stroke-width="4"/>
<circle cx="629.5" cy="1110.8" r="7" fill="#d2e3c0" stroke="#2e4a33" stroke-width="4"/>
<circle cx="682.8" cy="1111.8" r="7" fill="#d2e3c0" stroke="#2e4a33" stroke-width="4"/>
<circle cx="555.2" cy="1117.8" r="7" fill="#d2e3c0" stroke="#2e4a33" stroke-width="4"/>
<circle cx="599.4" cy="1122.8" r="7" fill="#d2e3c0" stroke="#2e4a33" stroke-width="4"/>
<circle cx="620.5" cy="1131.8" r="7" fill="#d2e3c0" stroke="#2e4a33" stroke-width="4"/>
<circle cx="651.6" cy="1126.8" r="7" fill="#d2e3c0" stroke="#2e4a33" stroke-width="4"/>
<circle cx="668.7" cy="1127.8" r="7" fill="#d2e3c0" stroke="#2e4a33" stroke-width="4"/>
<circle cx="697.8" cy="1127.8" r="7" fill="#d2e3c0" stroke="#2e4a33" stroke-width="4"/>
<circle cx="577.3" cy="1143.9" r="7" fill="#d2e3c0" stroke="#2e4a33" stroke-width="4"/>
<circle cx="610.5" cy="1159.0" r="7" fill="#d2e3c0" stroke="#2e4a33" stroke-width="4"/>
<circle cx="643.6" cy="1161.0" r="7" fill="#d2e3c0" stroke="#2e4a33" stroke-width="4"/>
<circle cx="678.8" cy="1150.9" r="7" fill="#d2e3c0" stroke="#2e4a33" stroke-width="4"/>
<ellipse cx="1012.5" cy="667.6" rx="96.0" ry="96.0" fill="#dce6f1" stroke="#8c8c8c" stroke-width="2.5"/>
<circle cx="990.9" cy="597.3" r="7" fill="#ecd3bd" stroke="#3d3a36" stroke-width="4"/>
<circle cx="1021.0" cy="596.3" r="7" fill="#ecd3bd" stroke="#3d3a36" stroke-width="4"/>
<circle cx="964.8" cy="608.3" r="7" fill="#ecd3bd" stroke="#3d3a36" stroke-width="4"/>
<circle cx="1008.9" cy="616.3" r="7" fill="#ecd3bd" stroke="#3d3a36" stroke-width="4"/>
<circle cx="1033.0" cy="620.4" r="7" fill="#ecd3bd" stroke="#3d3a36" stroke-width="4"/>
<circle cx="1052.1" cy="608.3" r="7" fill="#ecd3bd" stroke="#3d3a36" stroke-width="4"/>
<circle cx="1073.2" cy="626.4" r="7" fill="#ecd3bd" stroke="#3d3a36" stroke-width="4"/>
<circle cx="944.7" cy="631.4" r="7" fill="#ecd3bd" stroke="#3d3a36" stroke-width="4"/>
<circle cx="962.8" cy="639.4" r="7" fill="#ecd3bd" stroke="#3d3a36" stroke-width="4"/>
<circle cx="979.8" cy="641.5" r="7" fill="#ecd3bd" stroke="#3d3a36" stroke-width="4"/>
<circle cx="1005.9" cy="638.4" r="7" fill="#ecd3bd" stroke="#3d3a36" stroke-width="4"/>
<circle cx="1029.0" cy="645.5" r="7" fill="#ecd3bd" stroke="#3d3a36" stroke-width="4"/>
<circle cx="1086.3" cy="648.5" r="7" fill="#ecd3bd" stroke="#3d3a36" stroke-width="4"/>
<circle cx="934.6" cy="658.5" r="7" fill="#ecd3bd" stroke="#3d3a36" stroke-width="4"/>
<circle cx="1000.9" cy="660.5" r="7" fill="#ecd3bd" stroke="#3d3a36" stroke-width="4"/>
<circle cx="1053.1" cy="667.6" r="7" fill="#ecd3bd" stroke="#3d3a36" stroke-width="4"/>
<circle cx="1064.2" cy="662.5" r="7" fill="#ecd3bd" stroke="#3d3a36" stroke-width="4"/>
<circle cx="953.7" cy="673.6" r="7" fill="#ecd3bd" stroke="#3d3a36" stroke-width="4"/>
<circle cx="985.8" cy="673.6" r="7" fill="#ecd3bd" stroke="#3d3a36" stroke-width="4"/>
<circle cx="1026.0" cy="675.6" r="7" fill="#ecd3bd" stroke="#3d3a36" stroke-width="4"/>
<circle cx="1090.3" cy="675.6" r="7" fill="#ecd3bd" stroke="#3d3a36" stroke-width="4"/>
<circle cx="1009.9" cy="685.6" r="7" fill="#ecd3bd" stroke="#3d3a36" stroke-width="4"/>
<circle cx="1061.2" cy="686.6" r="7" fill="#ecd3bd" stroke="#3d3a36" stroke-width="4"/>
<circle cx="937.6" cy="692.7" r="7" fill="#ecd3bd" stroke="#3d3a36" stroke-width="4"/>
<circle cx="968.8" cy="695.7" r="7" fill="#ecd3bd" stroke="#3d3a36" stroke-width="4"/>
<circle cx="1000.9" cy="705.7" r="7" fill="#ecd3bd" stroke="#3d3a36" stroke-width="4"/>
<circle cx="1025.0" cy="701.7" r="7" fill="#ecd3bd" stroke="#3d3a36" stroke-width="4"/>
<circle cx="1049.1" cy="701.7" r="7" fill="#ecd3bd" stroke="#3d3a36" stroke-width="4"/>
<circle cx="1076.2" cy="701.7" r="7" fill="#ecd3bd" stroke="#3d3a36" stroke-width="4"/>
<circle cx="958.7" cy="716.8" r="7" fill="#ecd3bd" stroke="#3d3a36" stroke-width="4"/>
<circle cx="991.9" cy="731.8" r="7" fill="#ecd3bd" stroke="#3d3a36" stroke-width="4"/>
<circle cx="1023.0" cy="732.8" r="7" fill="#ecd3bd" stroke="#3d3a36" stroke-width="4"/>
<circle cx="1057.1" cy="724.8" r="7" fill="#ecd3bd" stroke="#3d3a36" stroke-width="4"/>
<circle cx="968.8" cy="739.9" r="7" fill="#ecd3bd" stroke="#3d3a36" stroke-width="4"/>
<ellipse cx="1027.5" cy="958.6" rx="95.4" ry="92.4" fill="#dce6f1" stroke="#8c8c8c" stroke-width="2.5"/>
<circle cx="1011.0" cy="890.3" r="7" fill="#d2e3c0" stroke="#2e4a33" stroke-width="4"/>
<circle cx="1040.1" cy="889.3" r="7" fill="#d2e3c0" stroke="#2e4a33" stroke-width="4"/>
<circle cx="982.9" cy="901.3" r="7" fill="#d2e3c0" stroke="#2e4a33" stroke-width="4"/>
<circle cx="1072.2" cy="901.3" r="7" fill="#d2e3c0" stroke="#2e4a33" stroke-width="4"/>
<circle cx="1018.0" cy="912.4" r="7" fill="#d2e3c0" stroke="#2e4a33" stroke-width="4"/>
<circle cx="1001.9" cy="918.4" r="7" fill="#d2e3c0" stroke="#2e4a33" stroke-width="4"/>
<circle cx="1053.1" cy="914.4" r="7" fill="#d2e3c0" stroke="#2e4a33" stroke-width="4"/>
<circle cx="1093.3" cy="919.4" r="7" fill="#d2e3c0" stroke="#2e4a33" stroke-width="4"/>
<circle cx="961.8" cy="924.4" r="7" fill="#d2e3c0" stroke="#2e4a33" stroke-width="4"/>
<circle cx="981.8" cy="933.5" r="7" fill="#d2e3c0" stroke="#2e4a33" stroke-width="4"/>
<circle cx="1038.1" cy="936.5" r="7" fill="#d2e3c0" stroke="#2e4a33" stroke-width="4"/>
<circle cx="1048.1" cy="939.5" r="7" fill="#d2e3c0" stroke="#2e4a33" stroke-width="4"/>
<circle cx="1072.2" cy="932.5" r="7" fill="#d2e3c0" stroke="#2e4a33" stroke-width="4"/>
<circle cx="1108.4" cy="942.5" r="7" fill="#d2e3c0" stroke="#2e4a33" stroke-width="4"/>
<circle cx="951.7" cy="952.5" r="7" fill="#d2e3c0" stroke="#2e4a33" stroke-width="4"/>
<circle cx="1020.0" cy="954.5" r="7" fill="#d2e3c0" stroke="#2e4a33" stroke-width="4"/>
<circle cx="971.8" cy="967.6" r="7" fill="#d2e3c0" stroke="#2e4a33" stroke-width="4"/>
<circle cx="988.9" cy="965.6" r="7" fill="#d2e3c0" stroke="#2e4a33" stroke-width="4"/>
<circle cx="1003.9" cy="968.6" r="7" fill="#d2e3c0" stroke="#2e4a33" stroke-width="4"/>
<circle cx="1085.3" cy="956.6" r="7" fill="#d2e3c0" stroke="#2e4a33" stroke-width="4"/>
<circle cx="1056.2" cy="963.6" r="7" fill="#d2e3c0" stroke="#2e4a33" stroke-width="4"/>
<circle cx="1111.4" cy="970.6" r="7" fill="#d2e3c0" stroke="#2e4a33" stroke-width="4"/>
<circle cx="1029.0" cy="980.7" r="7" fill="#d2e3c0" stroke="#2e4a33" stroke-width="4"/>
<circle cx="1082.3" cy="981.7" r="7" fill="#d2e3c0" stroke="#2e4a33" stroke-width="4"/>
<circle cx="954.7" cy="987.7" r="7" fill="#d2e3c0" stroke="#2e4a33" stroke-width="4"/>
<circle cx="998.9" cy="992.7" r="7" fill="#d2e3c0" stroke="#2e4a33" stroke-width="4"/>
<circle cx="1020.0" cy="1001.7" r="7" fill="#d2e3c0" stroke="#2e4a33" stroke-width="4"/>
<circle cx="1051.1" cy="996.7" r="7" fill="#d2e3c0" stroke="#2e4a33" stroke-width="4"/>
<circle cx="1068.2" cy="997.7" r="7" fill="#d2e3c0" stroke="#2e4a33" stroke-width="4"/>
<circle cx="1097.3" cy="997.7" r="7" fill="#d2e3c0" stroke="#2e4a33" stroke-width="4"/>
<circle cx="976.8" cy="1013.8" r="7" fill="#d2e3c0" stroke="#2e4a33" stroke-width="4"/>
<circle cx="1010.0" cy="1028.9" r="7" fill="#d2e3c0" stroke="#2e4a33" stroke-width="4"/>
<circle cx="1043.1" cy="1030.9" r="7" fill="#d2e3c0" stroke="#2e4a33" stroke-width="4"/>
<circle cx="1078.3" cy="1020.8" r="7" fill="#d2e3c0" stroke="#2e4a33" stroke-width="4"/>
<ellipse cx="1457.5" cy="818.1" rx="96.0" ry="96.0" fill="#dce6f1" stroke="#8c8c8c" stroke-width="2.5"/>
<circle cx="1435.9" cy="747.8" r="7" fill="#ecd3bd" stroke="#3d3a36" stroke-width="4"/>
<circle cx="1466.0" cy="746.8" r="7" fill="#ecd3bd" stroke="#3d3a36" stroke-width="4"/>
<circle cx="1409.8" cy="758.8" r="7" fill="#ecd3bd" stroke="#3d3a36" stroke-width="4"/>
<circle cx="1453.9" cy="766.8" r="7" fill="#ecd3bd" stroke="#3d3a36" stroke-width="4"/>
<circle cx="1478.0" cy="770.9" r="7" fill="#ecd3bd" stroke="#3d3a36" stroke-width="4"/>
<circle cx="1497.1" cy="758.8" r="7" fill="#ecd3bd" stroke="#3d3a36" stroke-width="4"/>
<circle cx="1518.2" cy="776.9" r="7" fill="#ecd3bd" stroke="#3d3a36" stroke-width="4"/>
<circle cx="1389.7" cy="781.9" r="7" fill="#ecd3bd" stroke="#3d3a36" stroke-width="4"/>
<circle cx="1407.8" cy="789.9" r="7" fill="#ecd3bd" stroke="#3d3a36" stroke-width="4"/>
<circle cx="1424.8" cy="792.0" r="7" fill="#ecd3bd" stroke="#3d3a36" stroke-width="4"/>
<circle cx="1450.9" cy="788.9" r="7" fill="#ecd3bd" stroke="#3d3a36" stroke-width="4"/>
<circle cx="1474.0" cy="796.0" r="7" fill="#ecd3bd" stroke="#3d3a36" stroke-width="4"/>
<circle cx="1531.3" cy="799.0" r="7" fill="#ecd3bd" stroke="#3d3a36" stroke-width="4"/>
<circle cx="1379.6" cy="809.0" r="7" fill="#ecd3bd" stroke="#3d3a36" stroke-width="4"/>
<circle cx="1445.9" cy="811.0" r="7" fill="#ecd3bd" stroke="#3d3a36" stroke-width="4"/>
<circle cx="1498.1" cy="818.1" r="7" fill="#ecd3bd" stroke="#3d3a36" stroke-width="4"/>
<circle cx="1509.2" cy="813.0" r="7" fill="#ecd3bd" stroke="#3d3a36" stroke-width="4"/>
<circle cx="1398.7" cy="824.1" r="7" fill="#ecd3bd" stroke="#3d3a36" stroke-width="4"/>
<circle cx="1430.8" cy="824.1" r="7" fill="#ecd3bd" stroke="#3d3a36" stroke-width="4"/>
<circle cx="1471.0" cy="826.1" r="7" fill="#ecd3bd" stroke="#3d3a36" stroke-width="4"/>
<circle cx="1535.3" cy="826.1" r="7" fill="#ecd3bd" stroke="#3d3a36" stroke-width="4"/>
<circle cx="1454.9" cy="836.1" r="7" fill="#ecd3bd" stroke="#3d3a36" stroke-width="4"/>
<circle cx="1506.2" cy="837.1" r="7" fill="#ecd3bd" stroke="#3d3a36" stroke-width="4"/>
<circle cx="1382.6" cy="843.2" r="7" fill="#ecd3bd" stroke="#3d3a36" stroke-width="4"/>
<circle cx="1413.8" cy="846.2" r="7" fill="#ecd3bd" stroke="#3d3a36" stroke-width="4"/>
<circle cx="1445.9" cy="856.2" r="7" fill="#ecd3bd" stroke="#3d3a36" stroke-width="4"/>
<circle cx="1470.0" cy="852.2" r="7" fill="#ecd3bd" stroke="#3d3a36" stroke-width="4"/>
<circle cx="1494.1" cy="852.2" r="7" fill="#ecd3bd" stroke="#3d3a36" stroke-width="4"/>
<circle cx="1521.2" cy="852.2" r="7" fill="#ecd3bd" stroke="#3d3a36" stroke-width="4"/>
<circle cx="1403.7" cy="867.3" r="7" fill="#ecd3bd" stroke="#3d3a36" stroke-width="4"/>
<circle cx="1436.9" cy="882.3" r="7" fill="#ecd3bd" stroke="#3d3a36" stroke-width="4"/>
<circle cx="1468.0" cy="883.3" r="7" fill="#ecd3bd" stroke="#3d3a36" stroke-width="4"/>
<circle cx="1502.1" cy="875.3" r="7" fill="#ecd3bd" stroke="#3d3a36" stroke-width="4"/>
<circle cx="1413.8" cy="890.4" r="7" fill="#ecd3bd" stroke="#3d3a36" stroke-width="4"/>
<text transform="translate(531.8,472.8) rotate(0.00)" font-size="37.6" font-weight="normal" fill="#2b2b2b" stroke="#2b2b2b" stroke-width="0.56" stroke-linejoin="round" textLength="191.0" lengthAdjust="spacingAndGlyphs" >Design Sets</text>
<text transform="translate(492.1,702.2) rotate(0.00)" font-size="40.5" font-weight="normal" fill="#2b2b2b" stroke="#2b2b2b" stroke-width="0.61" stroke-linejoin="round" textLength="212.9" lengthAdjust="spacingAndGlyphs" >Design Sets</text>
<text transform="translate(517.1,979.2) rotate(0.00)" font-size="41.9" font-weight="normal" fill="#2b2b2b" stroke="#2b2b2b" stroke-width="0.63" stroke-linejoin="round" textLength="220.0" lengthAdjust="spacingAndGlyphs" >Design Sets</text>
<text transform="translate(913.1,561.2) rotate(0.00)" font-size="37.7" font-weight="normal" fill="#2b2b2b" stroke="#2b2b2b" stroke-width="0.57" stroke-linejoin="round" textLength="215.0" lengthAdjust="spacingAndGlyphs" >Design Sets</text>
<text transform="translate(918.1,850.2) rotate(0.00)" font-size="37.7" font-weight="normal" fill="#2b2b2b" stroke="#2b2b2b" stroke-width="0.57" stroke-linejoin="round" textLength="220.0" lengthAdjust="spacingAndGlyphs" >Design Sets</text>
<text transform="translate(1359.1,710.2) rotate(0.00)" font-size="39.1" font-weight="normal" fill="#2b2b2b" stroke="#2b2b2b" stroke-width="0.59" stroke-linejoin="round" textLength="215.0" lengthAdjust="spacingAndGlyphs" >Design Sets</text>
<ellipse cx="1671.7" cy="687.0" rx="23.5" ry="25" transform="rotate(15 1671.7 687.0)" fill="#f8cbad" stroke="#3b2f2a" stroke-width="3.5"/>
<ellipse cx="1750.7" cy="714.1" rx="23.5" ry="25" transform="rotate(15 1750.7 714.1)" fill="#f8cbad" stroke="#3b2f2a" stroke-width="3.5"/>
<ellipse cx="1826.1" cy="741.3" rx="23.5" ry="25" transform="rotate(15 1826.1 741.3)" fill="#f8cbad" stroke="#3b2f2a" stroke-width="3.5"/>
<ellipse cx="1902.7" cy="773.4" rx="23.5" ry="25" transform="rotate(15 1902.7 773.4)" fill="#f8cbad" stroke="#3b2f2a" stroke-width="3.5"/>
<ellipse cx="1677.8" cy="759.8" rx="23.5" ry="25" transform="rotate(15 1677.8 759.8)" fill="#f8cbad" stroke="#3b2f2a" stroke-width="3.5"/>
<ellipse cx="1752.0" cy="785.8" rx="23.5" ry="25" transform="rotate(15 1752.0 785.8)" fill="#f8cbad" stroke="#3b2f2a" stroke-width="3.5"/>
<ellipse cx="1828.6" cy="817.9" rx="23.5" ry="25" transform="rotate(15 1828.6 817.9)" fill="#f8cbad" stroke="#3b2f2a" stroke-width="3.5"/>
<ellipse cx="1676.6" cy="832.7" rx="23.5" ry="25" transform="rotate(15 1676.6 832.7)" fill="#f8cbad" stroke="#3b2f2a" stroke-width="3.5"/>
<ellipse cx="1752.0" cy="859.9" rx="23.5" ry="25" transform="rotate(15 1752.0 859.9)" fill="#f8cbad" stroke="#3b2f2a" stroke-width="3.5"/>
<ellipse cx="1677.8" cy="905.6" rx="23.5" ry="25" transform="rotate(15 1677.8 905.6)" fill="#f8cbad" stroke="#3b2f2a" stroke-width="3.5"/>
<text transform="translate(401.1,946.4) rotate(-90.00)" font-size="56.3" font-weight="normal" fill="#1e1e1e" stroke="#1e1e1e" stroke-width="1.01" stroke-linejoin="round" textLength="303.0" lengthAdjust="spacingAndGlyphs" >Exploratory</text>
<text transform="translate(806.3,903.0) rotate(-90.00)" font-size="57.3" font-weight="normal" fill="#1e1e1e" stroke="#1e1e1e" stroke-width="1.03" stroke-linejoin="round" textLength="215.0" lengthAdjust="spacingAndGlyphs" >Concept</text>
<text transform="translate(1244.8,969.0) rotate(-90.00)" font-size="58.7" font-weight="normal" fill="#1e1e1e" stroke="#1e1e1e" stroke-width="1.06" stroke-linejoin="round" textLength="351.0" lengthAdjust="spacingAndGlyphs" >Development</text>
<g font-size="30.3" fill="#111" text-anchor="middle"><text transform="translate(157.4,856.0) rotate(-90.00)" font-size="30.3" font-weight="normal" fill="#000" stroke="#000" stroke-width="0.55" stroke-linejoin="round" textLength="470.0" lengthAdjust="spacingAndGlyphs" >Analyze Business/Mission Needs</text><text transform="translate(202.7,853.0) rotate(-90.00)" font-size="30.3" font-weight="normal" fill="#000" stroke="#000" stroke-width="0.55" stroke-linejoin="round" textLength="181.0" lengthAdjust="spacingAndGlyphs" >and System</text><text transform="translate(244.0,853.0) rotate(-90.00)" font-size="30.3" font-weight="normal" fill="#000" stroke="#000" stroke-width="0.55" stroke-linejoin="round" textLength="212.0" lengthAdjust="spacingAndGlyphs" >Requirements</text></g>
<text transform="translate(497.1,132.4) rotate(12.06)" font-size="54.5" font-weight="normal" fill="#0a2747" stroke="#0a2747" stroke-width="0.98" stroke-linejoin="round" textLength="196.7" lengthAdjust="spacingAndGlyphs" >Science</text>
<text transform="translate(777.5,188.3) rotate(12.06)" font-size="54.5" font-weight="normal" fill="#0a2747" stroke="#0a2747" stroke-width="0.98" stroke-linejoin="round" textLength="136.6" lengthAdjust="spacingAndGlyphs" >Math</text>
<text transform="translate(965.6,231.7) rotate(12.06)" font-size="54.5" font-weight="normal" fill="#0a2747" stroke="#0a2747" stroke-width="0.98" stroke-linejoin="round" textLength="566.1" lengthAdjust="spacingAndGlyphs" >Physics-Based Models</text>
<text transform="translate(1556.1,354.5) rotate(12.06)" font-size="54.5" font-weight="normal" fill="#0a2747" stroke="#0a2747" stroke-width="0.98" stroke-linejoin="round" textLength="195.8" lengthAdjust="spacingAndGlyphs" >Models</text>
<text transform="translate(1822.8,413.9) rotate(12.06)" font-size="54.5" font-weight="normal" fill="#0a2747" stroke="#0a2747" stroke-width="0.98" stroke-linejoin="round" textLength="306.4" lengthAdjust="spacingAndGlyphs" >Simulations</text>
<text transform="translate(2151.8,492.1) rotate(12.06)" font-size="54.5" font-weight="normal" fill="#0a2747" stroke="#0a2747" stroke-width="0.98" stroke-linejoin="round" textLength="281.5" lengthAdjust="spacingAndGlyphs" >Prototypes</text>
<text transform="translate(479.6,1330.2) rotate(-13.40)" font-size="44.7" font-weight="normal" fill="#141414" stroke="#141414" stroke-width="0.80" stroke-linejoin="round" textLength="279.6" lengthAdjust="spacingAndGlyphs" >Effectiveness</text>
<text transform="translate(770.0,1262.7) rotate(-13.40)" font-size="44.7" font-weight="normal" fill="#141414" stroke="#141414" stroke-width="0.80" stroke-linejoin="round" textLength="95.6" lengthAdjust="spacingAndGlyphs" >Cost</text>
<text transform="translate(953.2,1219.8) rotate(-13.40)" font-size="44.7" font-weight="normal" fill="#141414" stroke="#141414" stroke-width="0.80" stroke-linejoin="round" textLength="86.8" lengthAdjust="spacingAndGlyphs" >Risk</text>
<text transform="translate(1144.0,1172.4) rotate(-13.40)" font-size="44.7" font-weight="normal" fill="#141414" stroke="#141414" stroke-width="0.80" stroke-linejoin="round" textLength="197.2" lengthAdjust="spacingAndGlyphs" >Schedule</text>
<text transform="translate(1374.6,1119.6) rotate(-13.40)" font-size="44.7" font-weight="normal" fill="#141414" stroke="#141414" stroke-width="0.80" stroke-linejoin="round" textLength="191.7" lengthAdjust="spacingAndGlyphs" >Trade-off</text>
<text transform="translate(1579.5,1069.5) rotate(-13.40)" font-size="44.7" font-weight="normal" fill="#141414" stroke="#141414" stroke-width="0.80" stroke-linejoin="round" textLength="289.5" lengthAdjust="spacingAndGlyphs" >Deterministic</text>
<text transform="translate(1878.2,999.5) rotate(-13.40)" font-size="44.7" font-weight="normal" fill="#141414" stroke="#141414" stroke-width="0.80" stroke-linejoin="round" textLength="263.4" lengthAdjust="spacingAndGlyphs" >Probabilistic</text>
<text transform="translate(2152.7,931.8) rotate(-13.40)" font-size="44.7" font-weight="normal" fill="#141414" stroke="#141414" stroke-width="0.80" stroke-linejoin="round" textLength="222.1" lengthAdjust="spacingAndGlyphs" >Stochastic</text>
<text transform="translate(426.5,291.0) rotate(-78.40)" font-size="54.5" font-weight="bold" fill="#0d1a2a" stroke="#0d1a2a" stroke-width="0.80" stroke-linejoin="round" textLength="177.0" lengthAdjust="spacingAndGlyphs" >Design</text>
<line x1="434.6" y1="296.2" x2="473.8" y2="120.5" stroke="#0d1a2a" stroke-width="3"/>
<text transform="translate(495.8,1484.2) rotate(-101.50)" font-size="51.7" font-weight="bold" fill="#111" stroke="#111" stroke-width="0.80" stroke-linejoin="round" textLength="176.0" lengthAdjust="spacingAndGlyphs" >Analysis</text>
<line x1="505.1" y1="1481.2" x2="469.6" y2="1306.6" stroke="#111" stroke-width="3"/>
<text transform="translate(2446.0,670.0) rotate(0.00)" font-size="75.4" font-weight="normal" fill="#0a0a0a" stroke="#0a0a0a" stroke-width="0.80" stroke-linejoin="round" textLength="236.0" lengthAdjust="spacingAndGlyphs" >Design</text>
<circle cx="2562" cy="795" r="96" fill="#f7c9a9" stroke="#3b2b24" stroke-width="4.5"/>
<polygon points="2714.0,737.0 3141.0,737.0 3141.0,685.0 3247.0,790.0 3141.0,896.0 3141.0,843.0 2714.0,843.0" fill="#5b9bd5" stroke="#41719c" stroke-width="3"/>
<text transform="translate(2765.0,819.0) rotate(0.00)" font-size="75.4" font-weight="normal" fill="#ffffff" stroke="#ffffff" stroke-width="0.50" stroke-linejoin="round" textLength="379.0" lengthAdjust="spacingAndGlyphs" >Production</text>
<text transform="translate(1640.0,1551.1) rotate(0.00)" font-size="75.3" font-weight="normal" fill="#0a0a0a" stroke="#0a0a0a" stroke-width="0.80" stroke-linejoin="round" textLength="172.0" lengthAdjust="spacingAndGlyphs" >Time</text>
<rect x="81" y="1566" width="3110" height="22" fill="#000"/>
<polygon points="3185.4,1548.6 3243.8,1577.8 3185.4,1608.1" fill="#000" />
<circle cx="139" cy="573.5" r="13.9" fill="#000"/>
<path d="M158.6,521 Q158.6,515.6 165.5,515.6 Q172.5,515.6 172.5,521 L172.5,556 L267.5,564.3 L267.5,581.6 L205,589.7 L202.7,596.6 L168,597.8 Q158.6,597 158.6,589 L165.6,573.5 L158.6,562 Z" fill="#000"/>
<rect x="183" y="477.4" width="59" height="68.3" rx="7" fill="#000"/>
<polygon points="241.0,512.0 253.6,526.0 241.0,528.3" fill="#000" />
<rect x="196.8" y="491.3" width="3.6" height="25.5" rx="1.5" fill="#fff"/>
<line x1="197.1" y1="524.9" x2="202.1" y2="534.1" stroke="#fff" stroke-width="3"/>
<rect x="210.1" y="491.3" width="3.6" height="25.5" rx="1.5" fill="#fff"/>
<line x1="210.4" y1="524.9" x2="215.4" y2="534.1" stroke="#fff" stroke-width="3"/>
<rect x="223.5" y="491.3" width="3.6" height="25.5" rx="1.5" fill="#fff"/>
<line x1="223.8" y1="524.9" x2="228.8" y2="534.1" stroke="#fff" stroke-width="3"/>
</svg></body></html>
